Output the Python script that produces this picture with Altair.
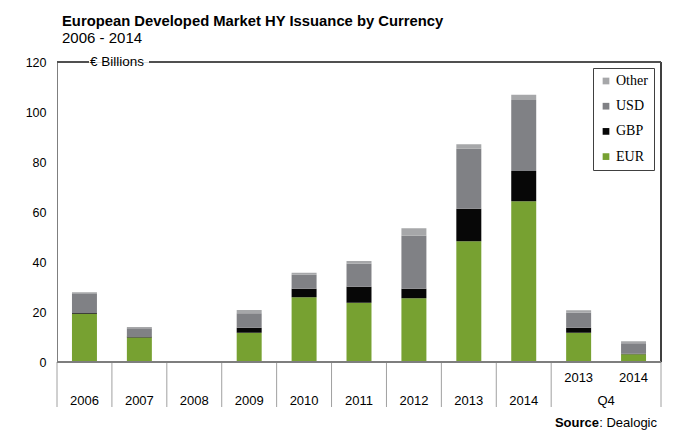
import altair as alt
import pandas as pd

# ---- data ----
categories = ["2006", "2007", "2008", "2009", "2010", "2011", "2012", "2013", "2014", "Q4 2013", "Q4 2014"]
eur = [19.3, 9.8, 0.0, 11.7, 25.9, 23.7, 25.5, 48.3, 64.3, 11.7, 3.1]
gbp = [0.3, 0.4, 0.0, 2.0, 3.4, 6.4, 3.8, 13.0, 12.1, 2.0, 0.2]
usd = [7.6, 3.3, 0.0, 5.8, 5.6, 9.2, 21.2, 24.0, 28.4, 6.0, 4.2]
other = [0.7, 0.5, 0.0, 1.3, 0.8, 1.1, 3.0, 1.8, 2.1, 1.0, 0.8]
currencies = ["EUR", "GBP", "USD", "Other"]
legend_order = ["Other", "USD", "GBP", "EUR"]
currency_colors = {"Other": "#a6a7a9", "USD": "#808185", "GBP": "#070707", "EUR": "#77a131"}
main_labels = ["2006", "2007", "2008", "2009", "2010", "2011", "2012", "2013", "2014"]
q4_years = ["2013", "2014"]
q4_group = "Q4"
y_ticks = [0, 20, 40, 60, 80, 100, 120]
title_text = "European Developed Market HY Issuance by Currency"
subtitle_text = "2006 - 2014"
unit_text = "€ Billions"
source_bold = "Source"
source_rest = ": Dealogic"

W, H = 604, 300
FONT = "Liberation Sans"
AXIS_GREY = "#7f7f7f"
DIV_GREY = "#a0a0a0"

series = {"EUR": eur, "GBP": gbp, "USD": usd, "Other": other}
rows = []
for i, cat in enumerate(categories):
    for k, cur in enumerate(currencies):
        rows.append({"cat": cat, "currency": cur, "value": series[cur][i], "order": k})
df = pd.DataFrame(rows)

n = len(categories)
# category label table on an index axis (center of category i is i + 0.5)
lab_rows = []
for i, t in enumerate(main_labels):
    lab_rows.append({"pos": i + 0.5, "text": t, "row": "main"})
for j, t in enumerate(q4_years):
    lab_rows.append({"pos": len(main_labels) + j + 0.5, "text": t, "row": "sub"})
lab_rows.append({"pos": len(main_labels) + len(q4_years) / 2, "text": q4_group, "row": "main"})
labels_df = pd.DataFrame(lab_rows)

# dividers: between categories, except inside the Q4 group
div_pos = [0] + [i for i in range(1, len(main_labels) + 1)] + [n]
div_df = pd.DataFrame({"pos": div_pos})

idx_scale = alt.Scale(domain=[0, n], nice=False, zero=False)

bars = alt.Chart(df).mark_bar().encode(
    x=alt.X("cat:N", sort=categories, axis=None,
            scale=alt.Scale(paddingInner=0.545, paddingOuter=0.2725)),
    y=alt.Y("value:Q", stack="zero",
            scale=alt.Scale(domain=[0, 120], nice=False),
            axis=alt.Axis(values=y_ticks, ticks=False, grid=False, title=None,
                          domainColor=AXIS_GREY, domainWidth=1,
                          labelFont=FONT, labelFontSize=12.5, labelColor="#000000",
                          labelPadding=11)),
    color=alt.Color("currency:N",
                    scale=alt.Scale(domain=legend_order,
                                    range=[currency_colors[c] for c in legend_order]),
                    legend=alt.Legend(title=None, orient="none", legendX=536, legendY=6,
                                      symbolType="square", symbolSize=45,
                                      symbolStrokeWidth=0,
                                      labelFont="Liberation Serif", labelFontSize=14,
                                      labelColor="#000000", labelOffset=3,
                                      rowPadding=11.2, padding=6,
                                      strokeColor="#404040", fillColor="#ffffff")),
    order=alt.Order("order:Q", sort="ascending"),
)

dividers = alt.Chart(div_df).mark_rule(color=DIV_GREY, strokeWidth=1).encode(
    x=alt.X("pos:Q", scale=idx_scale, axis=None),
    y=alt.value(H), y2=alt.value(H + 45),
)

right_frame = alt.Chart(div_df).mark_rule(color="#404040", strokeWidth=1).encode(
    x=alt.value(W), y=alt.value(0), y2=alt.value(H),
)
bottom_line = alt.Chart(div_df).mark_rule(color=AXIS_GREY, strokeWidth=1).encode(
    x=alt.value(0), x2=alt.value(W), y=alt.value(H),
)
top_left = alt.Chart(div_df).mark_rule(color="#505050", strokeWidth=1).encode(
    x=alt.value(0), x2=alt.value(32), y=alt.value(0),
)
top_right = alt.Chart(div_df).mark_rule(color="#505050", strokeWidth=1).encode(
    x=alt.value(92), x2=alt.value(W), y=alt.value(0),
)

main_lab = alt.Chart(labels_df).transform_filter(alt.datum.row == "main").mark_text(
    font=FONT, fontSize=13, color="#000000", baseline="middle", align="center"
).encode(x=alt.X("pos:Q", scale=idx_scale, axis=None), y=alt.value(339), text="text:N")

sub_lab = alt.Chart(labels_df).transform_filter(alt.datum.row == "sub").mark_text(
    font=FONT, fontSize=13, color="#000000", baseline="middle", align="center"
).encode(x=alt.X("pos:Q", scale=idx_scale, axis=None), y=alt.value(316), text="text:N")

def note(text, x, y, size, weight="normal", align="left", baseline="alphabetic"):
    return alt.Chart(pd.DataFrame({"t": [text]})).mark_text(
        font=FONT, fontSize=size, fontWeight=weight, color="#000000",
        align=align, baseline=baseline
    ).encode(x=alt.value(x), y=alt.value(y), text="t:N")

title = note(title_text, 5, -36, 14.8, weight="bold")
subtitle = note(subtitle_text, 5, -19, 15)
unit = note(unit_text, 33, 0, 13.5, baseline="middle")
src_rest = note(source_rest, 600, 365, 13, align="right")
src_bold = note(source_bold, 542, 365, 13, weight="bold", align="right")

chart = alt.layer(
    bars, dividers, right_frame, bottom_line, top_left, top_right,
    main_lab, sub_lab, title, subtitle, unit, src_rest, src_bold
).resolve_scale(x="independent").properties(
    width=W, height=H,
    autosize=alt.AutoSizeParams(type="none"),
    padding={"left": 49, "top": 54, "right": 4, "bottom": 72},
).configure_view(stroke=None).configure(background="#ffffff")

chart.save("out.html", embed_options={"renderer": "svg", "actions": False})
